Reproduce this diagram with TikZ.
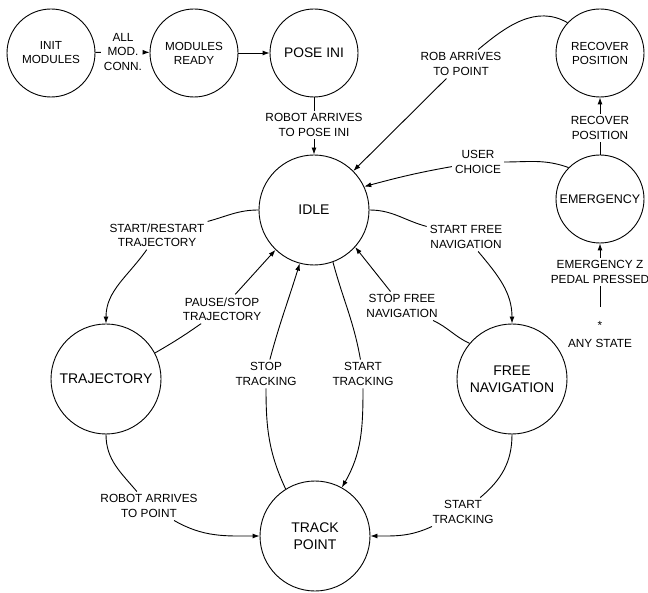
\documentclass[tikz,border=0pt]{standalone}
\usepackage{fontspec}
\setmainfont{Liberation Sans}
\usetikzlibrary{arrows.meta}
\begin{document}
\begin{tikzpicture}[x=1pt,y=-1pt,
  state/.style={circle,draw,line width=0.9pt,inner sep=0pt,align=center,minimum size=88pt,font=\fontsize{11.7}{14}\selectfont},
  big/.style={state,minimum size=110pt,font=\fontsize{14}{17}\selectfont},
  lbl/.style={inner sep=3pt,align=center,font=\fontsize{11.8}{14.2}\selectfont,fill=white},
  edge/.style={line width=0.9pt},
  arr/.style={edge,-{Latex[length=7pt,width=5pt]}}]
\useasboundingbox (0,0) rectangle (648,593);
% states
\node[state] (init) at (51,53) {INIT\\MODULES};
\node[state] (ready) at (194,53) {MODULES\\READY};
\node[state,font=\fontsize{13.8}{16}\selectfont] (pose) at (314,53) {POSE INI};
\node[big] (idle) at (314,210) {IDLE};
\node[state] (recover) at (600,53) {RECOVER\\POSITION};
\node[state,font=\fontsize{12.5}{15}\selectfont] (emerg) at (600,199) {EMERGENCY};
\node[big] (traj) at (106,379) {TRAJECTORY};
\node[big] (free) at (512,379) {FREE\\NAVIGATION};
\node[big] (track) at (315,536) {TRACK\\POINT};
% labels
\node[lbl] (lAll) at (123,52) {ALL\\MOD.\\CONN.};
\node[lbl] (lPose) at (314,125) {ROBOT ARRIVES\\TO POSE INI};
\node[lbl] (lRob) at (461,64) {ROB ARRIVES\\TO POINT};
\node[lbl] (lUser) at (478,162) {USER\\CHOICE};
\node[lbl] (lRecov) at (600,128) {RECOVER\\POSITION};
\node[lbl] (lEmZ) at (600,272) {EMERGENCY Z\\PEDAL PRESSED};
\node[lbl,fill=none] (star) at (600,325) {*};
\node[lbl,fill=none] (any) at (600,343) {ANY STATE};
\coordinate (anyTop) at (600,307);
\node[lbl] (lStartRestart) at (157,235) {START/RESTART\\TRAJECTORY};
\node[lbl] (lPause) at (222,309) {PAUSE/STOP\\TRAJECTORY};
\node[lbl] (lStopTr) at (266,374) {STOP\\TRACKING};
\node[lbl] (lStartTr) at (363,374) {START\\TRACKING};
\node[lbl] (lStopFree) at (402,306) {STOP FREE\\NAVIGATION};
\node[lbl] (lStartFree) at (466,237) {START FREE\\NAVIGATION};
\node[lbl] (lRobPt) at (149,506) {ROBOT ARRIVES\\TO POINT};
\node[lbl] (lStartTr2) at (463,512) {START\\TRACKING};
% edges
\draw[edge] (init) -- (lAll);
\draw[arr] (lAll) -- (ready);
\draw[arr] (ready) -- (pose);
\draw[edge] (pose) -- (lPose);
\draw[arr] (lPose) -- (idle);
\draw[edge] (recover.137) to[out=150,in=40] (lRob);
\draw[arr] (lRob) -- (idle);
\draw[edge] (emerg.135) to[out=160,in=0] (lUser);
\draw[arr] (lUser) to[out=190,in=15] (idle.25);
\draw[edge] (emerg) -- (lRecov);
\draw[arr] (lRecov) -- (recover);
\draw[edge] (anyTop) -- (lEmZ);
\draw[arr] (lEmZ) -- (emerg);
\draw[edge] (idle.west) to[out=180,in=15] (lStartRestart);
\draw[arr] (lStartRestart) to[out=235,in=90] (traj.north);
\draw[edge] (traj.28) to[out=30,in=215] (lPause);
\draw[arr] (lPause) -- (idle.226);
\draw[edge] (idle.290) to[out=285,in=100] (lStartTr);
\draw[arr] (lStartTr) to[out=270,in=60] (track.61);
\draw[edge] (track.122) to[out=115,in=270] (lStopTr);
\draw[arr] (lStopTr) to[out=75,in=253] (idle.255);
\draw[edge] (idle.east) to[out=0,in=165] (lStartFree);
\draw[arr] (lStartFree) to[out=310,in=90] (free.north);
\draw[edge] (free.140) to[out=155,in=335] (lStopFree);
\draw[arr] (lStopFree) -- (idle.318);
\draw[edge] (traj.south) to[out=270,in=130] (lRobPt);
\draw[arr] (lRobPt) to[out=330,in=180] (track.west);
\draw[edge] (free.south) to[out=270,in=40] (lStartTr2);
\draw[arr] (lStartTr2) to[out=205,in=0] (track.east);
\end{tikzpicture}
\end{document}
